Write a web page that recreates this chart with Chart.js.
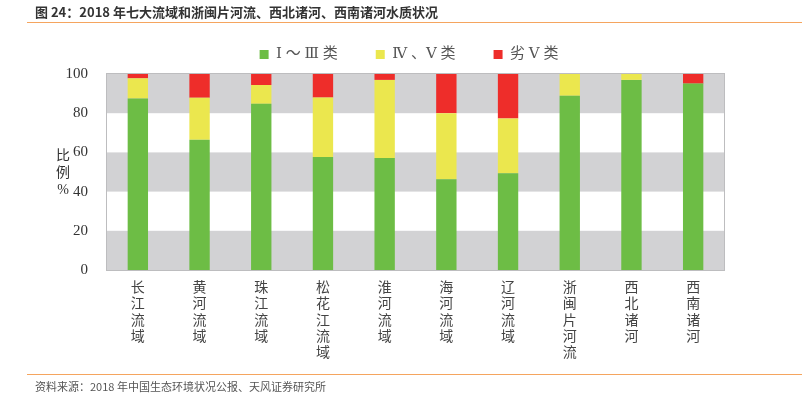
<!DOCTYPE html>
<html>
<head>
<meta charset="utf-8">
<script src="https://cdn.jsdelivr.net/npm/chart.js@4/dist/chart.umd.min.js"></script>
<style>
  html, body { margin: 0; padding: 0; background: #fff; }
  #wrap { position: relative; width: 802px; height: 395px; overflow: hidden; }
  #grafica { position: absolute; left: 0; top: 0; }
  .titulo { position: absolute; left: 35px; top: 2px; font: bold 13px "Noto Sans CJK SC", sans-serif; color: #333; z-index: 2; }
  .linea { position: absolute; left: 27px; right: 0; height: 1px; background: #f5a55f; z-index: 2; }
  .fuente { position: absolute; left: 35px; top: 378px; font: 11px "Noto Sans CJK SC", sans-serif; color: #555; z-index: 2; }
</style>
</head>
<body>
<div id="wrap">
  <div class="titulo">图 24：2018 年七大流域和浙闽片河流、西北诸河、西南诸河水质状况</div>
  <div class="linea" style="top:22px"></div>
  <canvas id="grafica" width="802" height="395"></canvas>
  <div class="linea" style="top:374px"></div>
  <div class="fuente">资料来源：2018 年中国生态环境状况公报、天风证券研究所</div>
</div>
<script>
// datos
const cuencas = ['长江流域', '黄河流域', '珠江流域', '松花江流域', '淮河流域', '海河流域', '辽河流域', '浙闽片河流', '西北诸河', '西南诸河'];
const claseI_III = [87.5, 66.4, 84.8, 57.6, 57.2, 46.3, 49.3, 88.9, 97.0, 95.1];
const claseIV_V = [10.3, 21.5, 9.6, 30.4, 39.8, 33.7, 28.0, 11.1, 3.0, 0];
const claseV_peor = [2.2, 12.1, 5.6, 12.0, 3.0, 20.0, 22.7, 0, 0, 4.9];
const ticksY = [0, 20, 40, 60, 80, 100];
const nombresSeries = ['Ⅰ ～ Ⅲ 类', 'Ⅳ 、Ⅴ 类', '劣 Ⅴ 类'];

(function() {
    const bandas = {
        id: 'bandas',
        afterLayout(chart) {
            // correr la leyenda hacia donde esta en la original
            const l = chart.legend;
            const dx = 47, dy = -2;
            l.left += dx; l.right += dx;
            l.top += dy; l.bottom += dy;
        },
        beforeDraw(chart) {
            const {ctx, chartArea: a, scales: {y}} = chart;
            ctx.save();
            ctx.fillStyle = '#d2d2d4';
            for (let i = 0; i < ticksY.length - 1; i += 2) {
                const y1 = y.getPixelForValue(ticksY[i]);
                const y2 = y.getPixelForValue(ticksY[i + 1]);
                ctx.fillRect(a.left, y2, a.right - a.left, y1 - y2);
            }
            ctx.restore();
        },
        afterDraw(chart) {
            const {ctx, chartArea: a} = chart;
            ctx.save();
            ctx.strokeStyle = '#bdbdbf';
            ctx.lineWidth = 1;
            ctx.strokeRect(a.left - 0.5, a.top - 0.5, a.right - a.left + 1, a.bottom - a.top + 1);
            // titulo eje y en vertical
            ctx.fillStyle = '#333';
            ctx.font = '14px "Liberation Serif", "Noto Sans CJK SC", serif';
            ctx.textAlign = 'center';
            ctx.textBaseline = 'middle';
            ['比', '例', '%'].forEach((c, i) => ctx.fillText(c, 63, 156 + i * 17));
            ctx.restore();
        }
    };

    new Chart(document.getElementById('grafica'), {
        type: 'bar',
        data: {
            labels: cuencas.map(n => n.split('')),
            datasets: [
                { label: nombresSeries[0], data: claseI_III, backgroundColor: '#6dbd45' },
                { label: nombresSeries[1], data: claseIV_V, backgroundColor: '#ebe74e' },
                { label: nombresSeries[2], data: claseV_peor, backgroundColor: '#ee2d2a' }
            ]
        },
        options: {
            responsive: false,
            animation: false,
            layout: { padding: { top: 11, right: 78, bottom: 25, left: 0 } },
            datasets: { bar: { categoryPercentage: 1, barPercentage: 0.33 } },
            scales: {
                x: {
                    stacked: true,
                    grid: { display: false },
                    border: { display: false },
                    ticks: {
                        color: '#444',
                        padding: 1,
                        maxRotation: 0,
                        autoSkip: false,
                        font: { family: '"Noto Sans CJK SC", sans-serif', size: 14, lineHeight: 1.15 }
                    },
                    afterFit(scale) { scale.height = 100; }
                },
                y: {
                    stacked: true,
                    min: 0,
                    max: 100,
                    grid: { display: false },
                    border: { display: false },
                    ticks: {
                        stepSize: 20,
                        color: '#333',
                        padding: 11,
                        font: { family: '"Liberation Serif", serif', size: 15 }
                    },
                    afterFit(scale) { scale.width = 107; }
                }
            },
            plugins: {
                legend: {
                    position: 'top',
                    labels: {
                        boxWidth: 9,
                        boxHeight: 9,
                        padding: 38,
                        color: '#555',
                        font: { family: '"Liberation Serif", "DejaVu Serif", "Noto Sans CJK SC", serif', size: 15 }
                    }
                },
                tooltip: { enabled: false }
            }
        },
        plugins: [bandas]
    });
})();
</script>
</body>
</html>
